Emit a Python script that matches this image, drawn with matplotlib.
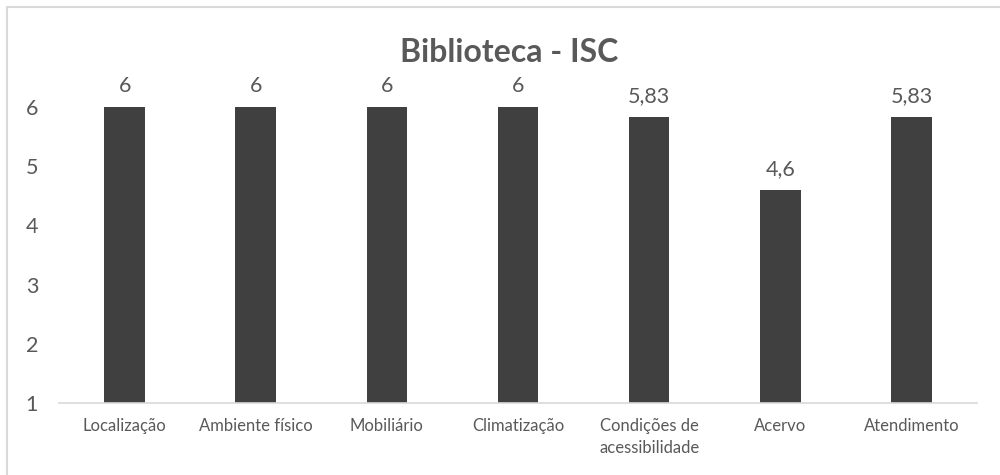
import matplotlib.pyplot as plt
from matplotlib.patches import Rectangle

# data
categorias = ['Localização', 'Ambiente físico', 'Mobiliário', 'Climatização',
              'Condições de\nacessibilidade', 'Acervo', 'Atendimento']
notas = [6, 6, 6, 6, 5.83, 4.6, 5.83]
rotulos = ['6', '6', '6', '6', '5,83', '4,6', '5,83']
yticks = [1, 2, 3, 4, 5, 6]

plt.rcParams['font.family'] = ['Lato', 'DejaVu Sans']
texto = '#595959'

fig = plt.figure(figsize=(10, 4.75), dpi=100)
ax = fig.add_axes([0.059, 0.1516, 0.918, 0.6232])

x = range(len(categorias))
bars = ax.bar(x, notas, width=0.31, color='#404040', bottom=0)
ax.set_ylim(1, 6)
ax.set_xlim(-0.5, len(categorias) - 0.5)
ax.set_yticks(yticks)
ax.set_yticklabels([str(t) for t in yticks], fontsize=15.5, color=texto)
ax.set_xticks(list(x))
ax.set_xticklabels(categorias, fontsize=12, color=texto, linespacing=1.45,
                   va='top')
ax.tick_params(axis='both', length=0)
ax.tick_params(axis='x', pad=11)
ax.tick_params(axis='y', pad=24)
for lbl in ax.get_yticklabels():
    lbl.set_horizontalalignment('left')

for s in ['top', 'right', 'left']:
    ax.spines[s].set_visible(False)
ax.spines['bottom'].set_color('#d9d9d9')
ax.spines['bottom'].set_linewidth(1.2)

for xi, v, r in zip(x, notas, rotulos):
    ax.annotate(r, (xi, v), xytext=(0, 8), textcoords='offset points',
                ha='center', va='bottom', fontsize=15.5, color=texto,
                clip_on=False)

fig.text(0.509, 0.89, 'Biblioteca - ISC', ha='center', va='center',
         fontsize=23, fontweight='bold', color=texto)

# chart border (only top and left edges fall inside the image)
fig.patches.append(Rectangle((0.007, -0.1), 1.1, 0.1 + 0.985,
                             transform=fig.transFigure, fill=False,
                             edgecolor='#d9d9d9', linewidth=1.5))

fig.savefig('out.png', dpi=100)
